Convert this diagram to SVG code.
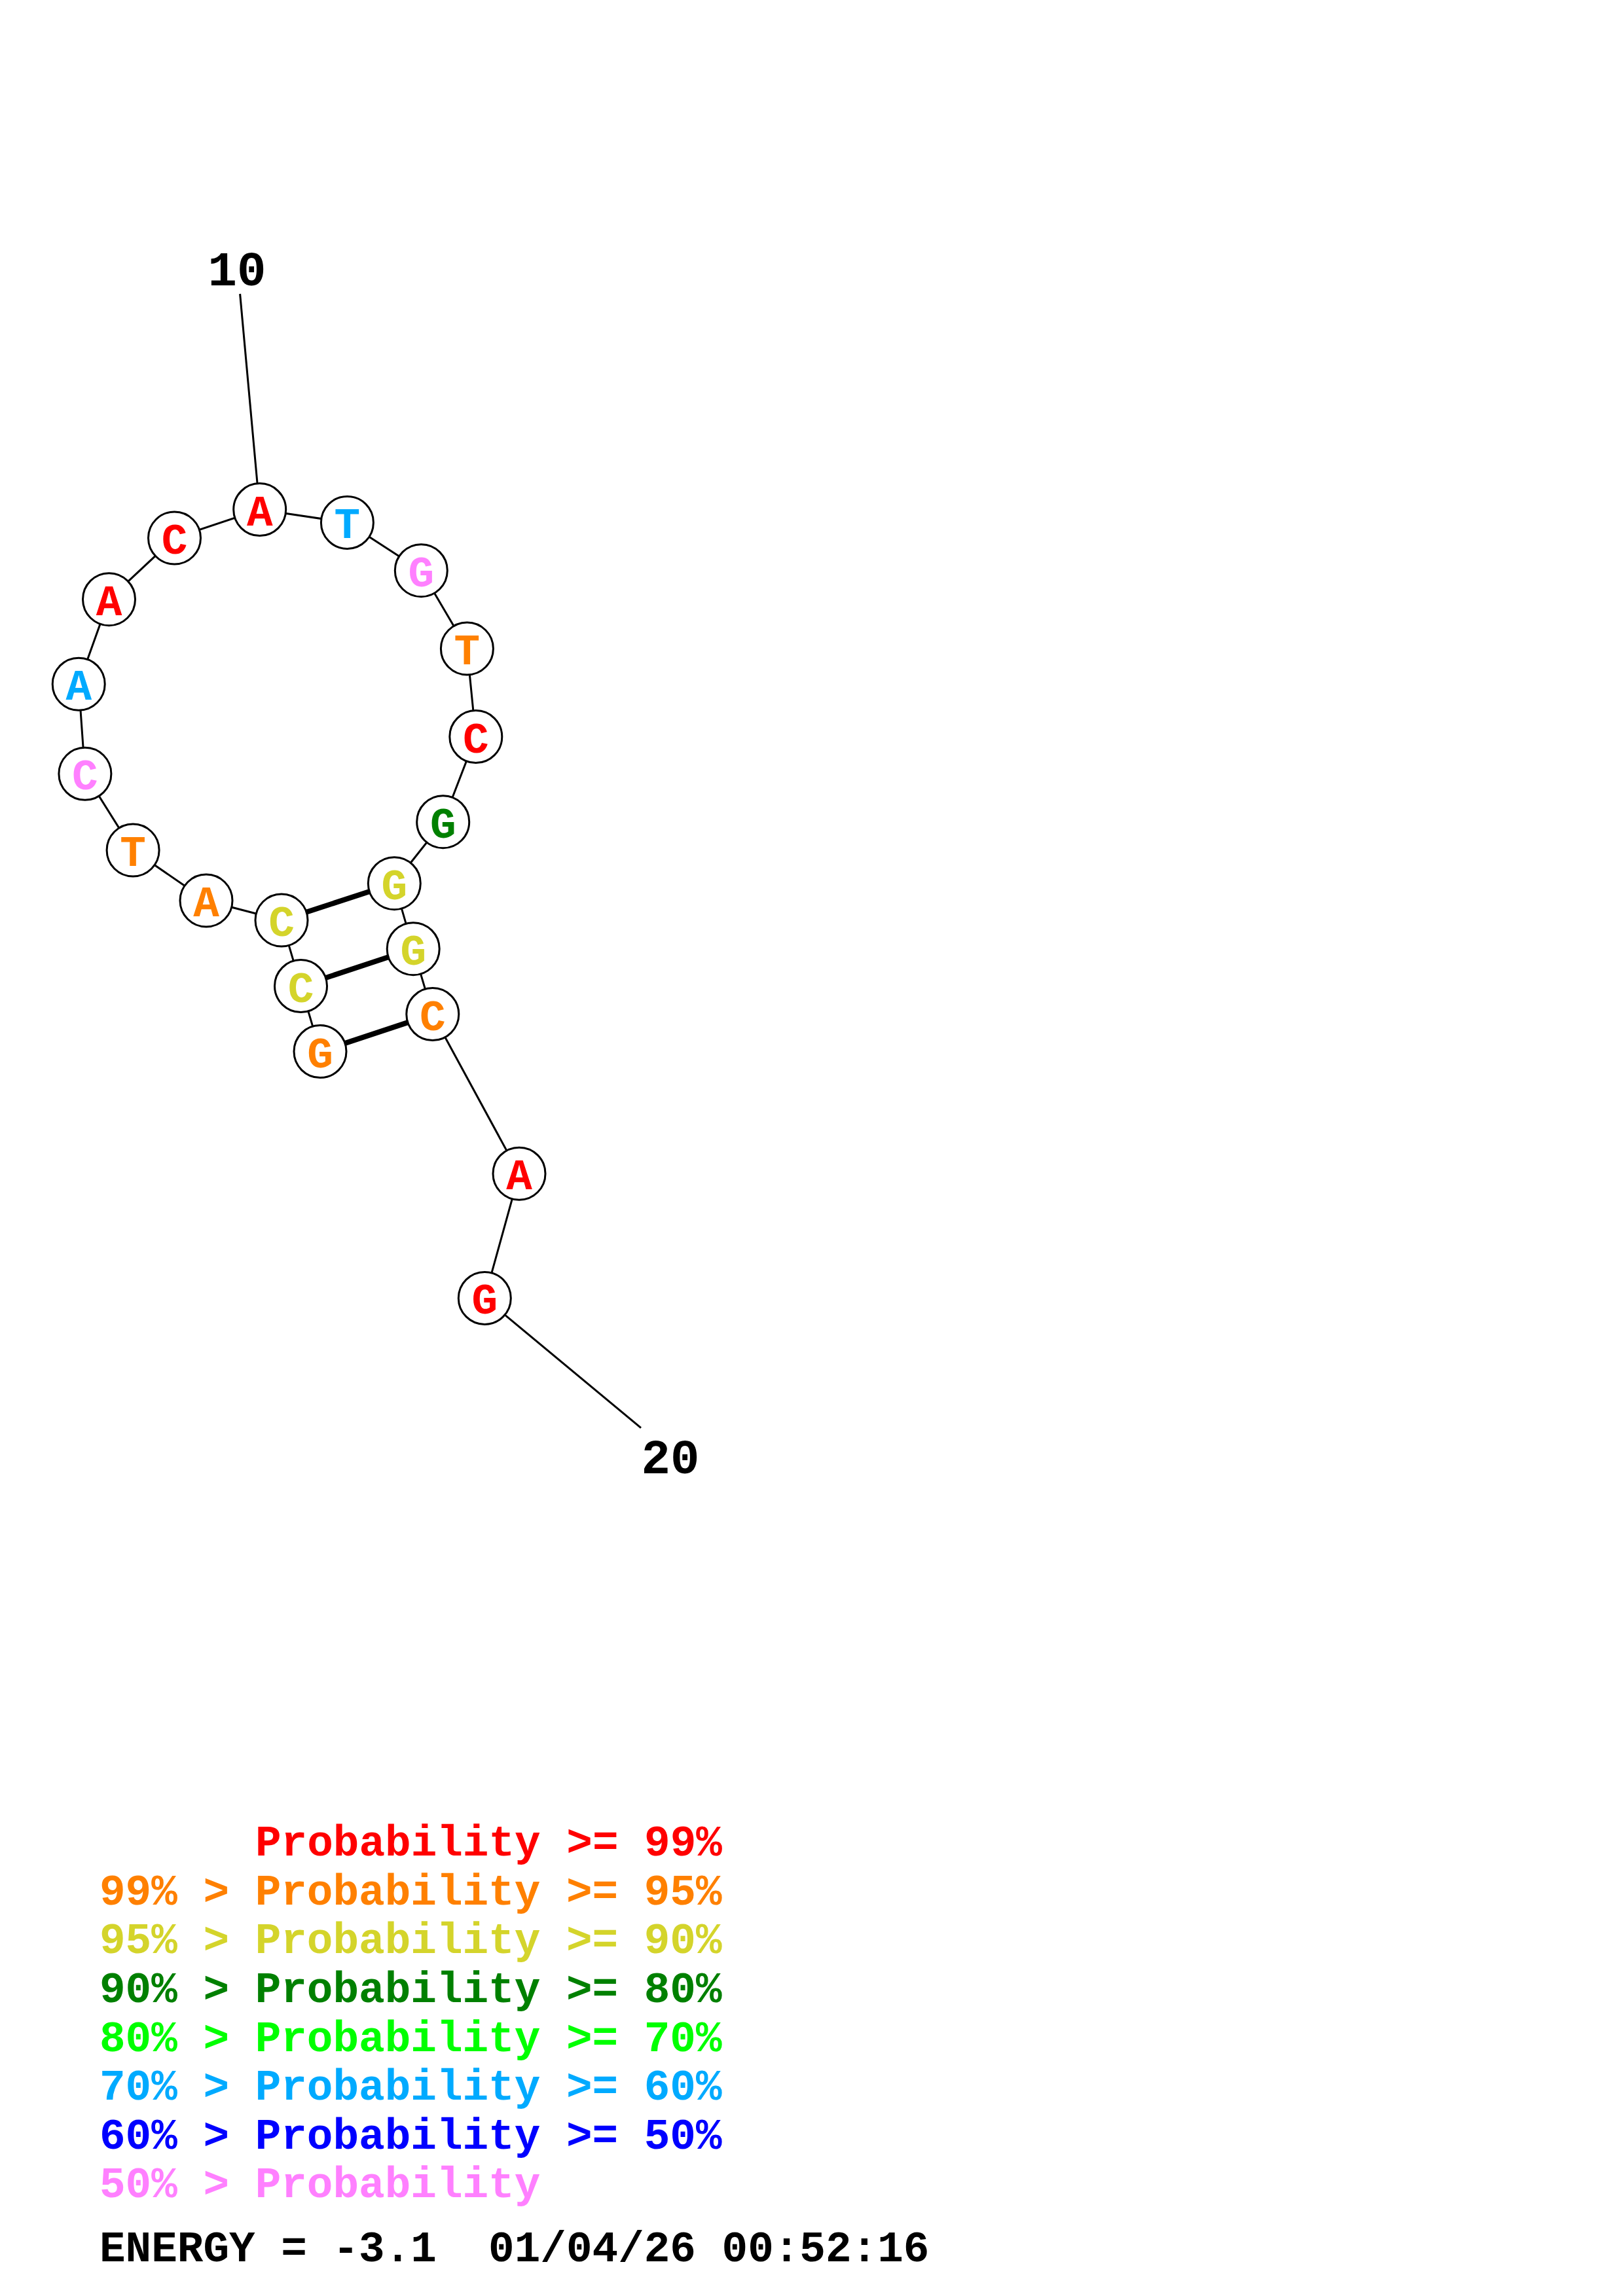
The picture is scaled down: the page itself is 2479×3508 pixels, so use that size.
<svg xmlns="http://www.w3.org/2000/svg" width="2479" height="3508" viewBox="0 0 2479 3508">
<style>
text{font-family:"Liberation Mono","DejaVu Sans Mono",monospace;font-weight:bold;white-space:pre}
.n circle{fill:#fff;stroke:#000;stroke-width:3}
.n text{font-size:66px;text-anchor:middle}
.bb{fill:none;stroke:#000;stroke-width:3}
.bp{stroke:#000;stroke-width:8}
.lg{font-size:66px}
.lbl{font-size:74px;text-anchor:middle;fill:#000}
.r{fill:#FF0000}.o{fill:#FF8000}.y{fill:#D4D42B}.g{fill:#008000}.lg2{fill:#00FF00}.b{fill:#00AAFF}.db{fill:#0000FF}.p{fill:#FF80FF}.k{fill:#000}
</style>
<rect width="2479" height="3508" fill="#fff"/>
<g id="connectors">
<polyline class="bb" points="489,1606.6 459.5,1506.6 430,1406 315,1376 203.1,1299 129.9,1182.3 120.2,1045.2 166.5,915.7 266.5,822 396.7,778.6 530.4,798.4 643.3,871.7 713.4,991 726.8,1125.6 676.7,1255.7 602.3,1349.7 631.2,1449.7 660.8,1549.6 793,1793.2 740.3,1983.4"/>
<line class="bp" x1="430" y1="1406" x2="602.3" y2="1349.7"/>
<line class="bp" x1="459.5" y1="1506.6" x2="631.2" y2="1449.7"/>
<line class="bp" x1="489" y1="1606.6" x2="660.8" y2="1549.6"/>
<line class="bb" x1="366.6" y1="449" x2="396.7" y2="778.6"/>
<line class="bb" x1="740.3" y1="1983.4" x2="979" y2="2181.6"/>
</g>
<g id="n1" class="n"><circle cx="489" cy="1606.6" r="40"/><text x="489" y="1630.6" class="o">G</text></g>
<g id="n2" class="n"><circle cx="459.5" cy="1506.6" r="40"/><text x="459.5" y="1530.6" class="y">C</text></g>
<g id="n3" class="n"><circle cx="430" cy="1406" r="40"/><text x="430" y="1430" class="y">C</text></g>
<g id="n4" class="n"><circle cx="315" cy="1376" r="40"/><text x="315" y="1400" class="o">A</text></g>
<g id="n5" class="n"><circle cx="203.1" cy="1299" r="40"/><text x="203.1" y="1323" class="o">T</text></g>
<g id="n6" class="n"><circle cx="129.9" cy="1182.3" r="40"/><text x="129.9" y="1206.3" class="p">C</text></g>
<g id="n7" class="n"><circle cx="120.2" cy="1045.2" r="40"/><text x="120.2" y="1069.2" class="b">A</text></g>
<g id="n8" class="n"><circle cx="166.5" cy="915.7" r="40"/><text x="166.5" y="939.7" class="r">A</text></g>
<g id="n9" class="n"><circle cx="266.5" cy="822" r="40"/><text x="266.5" y="846" class="r">C</text></g>
<g id="n10" class="n"><circle cx="396.7" cy="778.6" r="40"/><text x="396.7" y="802.6" class="r">A</text></g>
<g id="n11" class="n"><circle cx="530.4" cy="798.4" r="40"/><text x="530.4" y="822.4" class="b">T</text></g>
<g id="n12" class="n"><circle cx="643.3" cy="871.7" r="40"/><text x="643.3" y="895.7" class="p">G</text></g>
<g id="n13" class="n"><circle cx="713.4" cy="991" r="40"/><text x="713.4" y="1015" class="o">T</text></g>
<g id="n14" class="n"><circle cx="726.8" cy="1125.6" r="40"/><text x="726.8" y="1149.6" class="r">C</text></g>
<g id="n15" class="n"><circle cx="676.7" cy="1255.7" r="40"/><text x="676.7" y="1279.7" class="g">G</text></g>
<g id="n16" class="n"><circle cx="602.3" cy="1349.7" r="40"/><text x="602.3" y="1373.7" class="y">G</text></g>
<g id="n17" class="n"><circle cx="631.2" cy="1449.7" r="40"/><text x="631.2" y="1473.7" class="y">G</text></g>
<g id="n18" class="n"><circle cx="660.8" cy="1549.6" r="40"/><text x="660.8" y="1573.6" class="o">C</text></g>
<g id="n19" class="n"><circle cx="793" cy="1793.2" r="40"/><text x="793" y="1817.2" class="r">A</text></g>
<g id="n20" class="n"><circle cx="740.3" cy="1983.4" r="40"/><text x="740.3" y="2007.4" class="r">G</text></g>
<g id="labels">
<text class="lbl" x="362" y="436">10</text>
<text class="lbl" x="1024" y="2251">20</text>
</g>
<g id="legend" class="lg">
<text x="390" y="2835" class="r">Probability &gt;= 99%</text>
<text x="152" y="2910" class="o">99% &gt; Probability &gt;= 95%</text>
<text x="152" y="2984" class="y">95% &gt; Probability &gt;= 90%</text>
<text x="152" y="3059" class="g">90% &gt; Probability &gt;= 80%</text>
<text x="152" y="3134" class="lg2">80% &gt; Probability &gt;= 70%</text>
<text x="152" y="3208" class="b">70% &gt; Probability &gt;= 60%</text>
<text x="152" y="3283" class="db">60% &gt; Probability &gt;= 50%</text>
<text x="152" y="3357" class="p">50% &gt; Probability</text>
<text x="152" y="3455" class="k">ENERGY = -3.1  01/04/26 00:52:16</text>
</g>
</svg>
